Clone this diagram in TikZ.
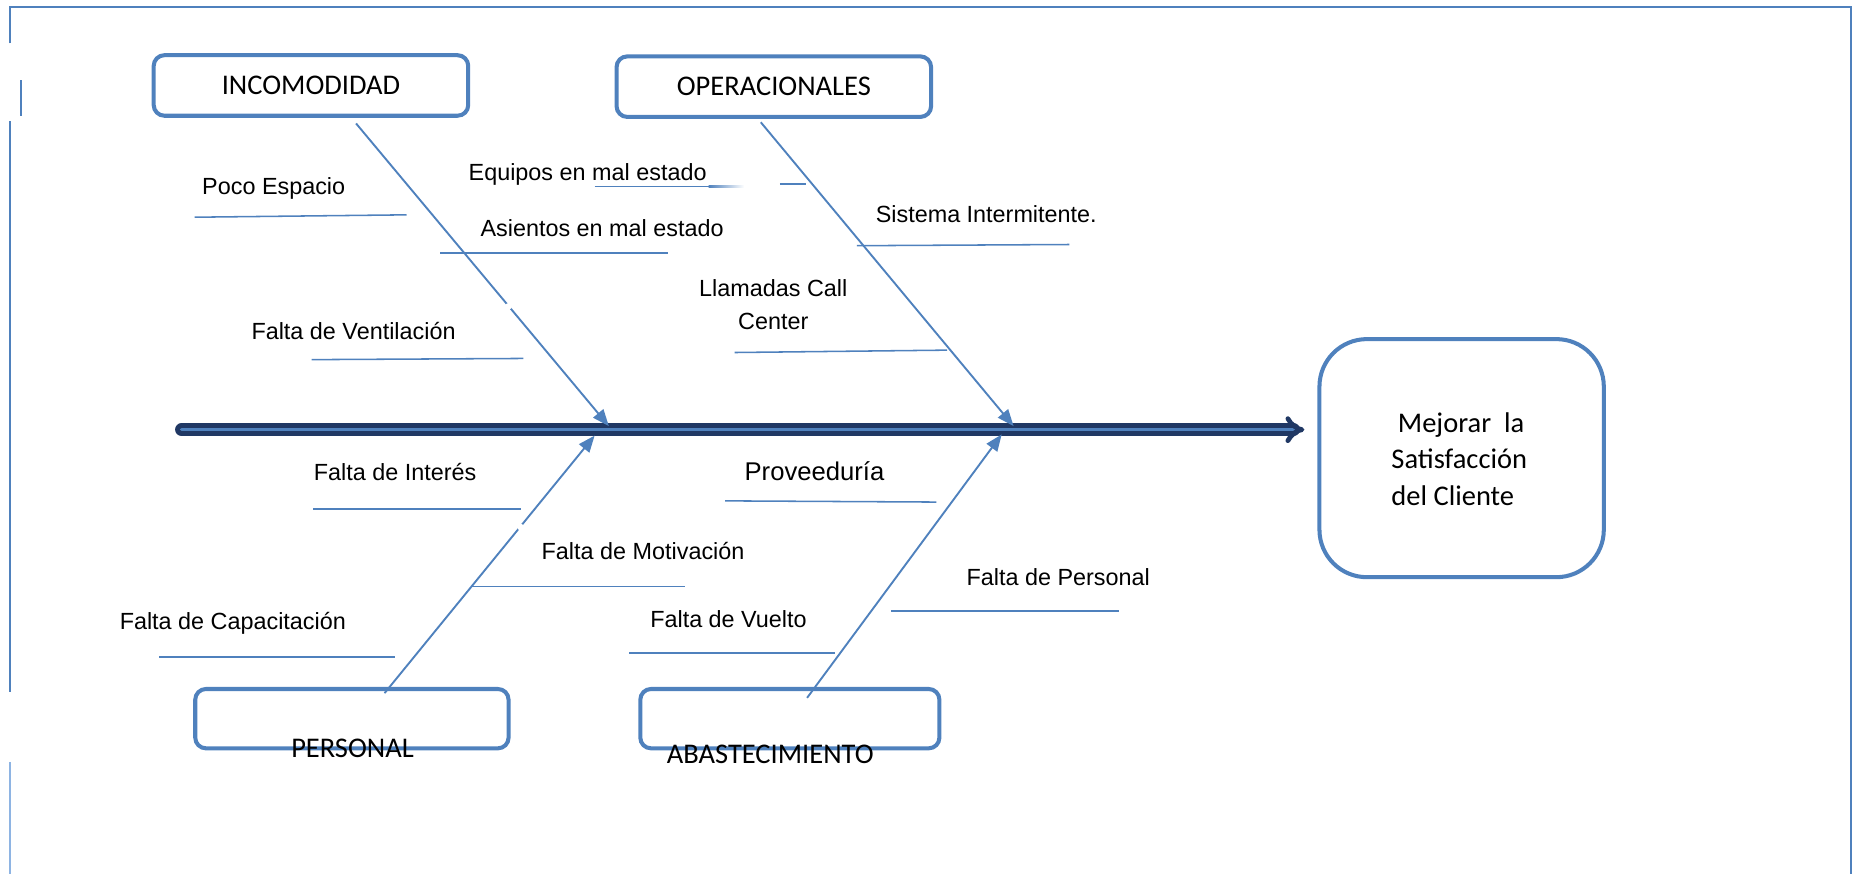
\documentclass[tikz,border=0pt]{standalone}
\usepackage{fontspec}
\usetikzlibrary{arrows.meta}
\newfontfamily\arialfont{Liberation Sans}
\newfontfamily\calibrifont{Carlito}
\definecolor{ofblue}{HTML}{4F81BD}
\definecolor{spinedark}{HTML}{203864}
\definecolor{spinelight}{HTML}{4F81BD}
\definecolor{paleblue}{HTML}{8EB4E3}

\begin{document}
\begin{tikzpicture}[x=0.5pt,y=-0.5pt,
  catbox/.style={draw=ofblue, line width=1.7pt, rounded corners=4.5pt, inner sep=0pt,
    minimum height=25.5pt, font=\calibrifont\fontsize{12}{14.4}\selectfont},
  goalbox/.style={draw=ofblue, line width=1.7pt, rounded corners=20pt, inner sep=0pt,
    minimum width=119.8pt, minimum height=100.3pt},
  cattext/.style={inner sep=0pt, anchor=base, font=\calibrifont\fontsize{12}{14.4}\selectfont},
  cause/.style={inner sep=0pt, anchor=base west, font=\arialfont\fontsize{9.85}{12}\selectfont},
  rib/.style={draw=ofblue, line width=0.65pt},
  bone/.style={draw=ofblue, line width=0.8pt, -{Triangle[length=7pt,width=5.5pt]}},
  frameline/.style={draw=ofblue, line width=0.85pt},
  spinearrow/.style={draw=spinedark, line width=2pt, double=spinelight, double distance=1.5pt,
    line cap=round, -{Implies}}
]
\useasboundingbox (0,0) rectangle (1568,736);

% page frame
\draw[frameline] (8.4,36.5) -- (8.4,6.2) -- (1559.5,6.2) -- (1559.5,736);
\draw[frameline] (17.4,67.4) -- (17.4,97.5);
\draw[frameline] (8.4,102) -- (8.4,582.8);
\draw[frameline, draw=paleblue, line width=0.6pt] (8.4,642) -- (8.4,736);

% category boxes
\node[catbox, minimum width=132.5pt] (incom) at (262,72) {INCOMODIDAD};
\node[catbox, minimum width=132.5pt] (operac) at (652,73) {\raisebox{-1.5pt}{OPERACIONALES}};
\node[catbox, minimum width=132pt, minimum height=25pt] (personal) at (296.5,605.5) {};
\node[catbox, minimum width=126pt, minimum height=25pt] (abast) at (665.5,605.5) {};
\node[cattext] (personaltxt) at (297,638) {PERSONAL};
\node[cattext] (abasttxt) at (649,643) {ABASTECIMIENTO};

% effect box
\node[goalbox] (mejora) at (1231.5,386) {};
\node[inner sep=0pt, anchor=base west] (mejoratxt) at (1172,364.5)
  {\calibrifont\fontsize{12}{15.25}\selectfont
   \begin{tabular}[t]{@{}l@{}}\ Mejorar\ \ la\\Satisfacción\\del Cliente\end{tabular}};

% spine
\coordinate (spinestart) at (153,362);
\draw[spinearrow, shorten >=5.5pt] (spinestart) -- (spinestart -| mejora.west);

% main bones
\coordinate (b1s) at (300,104);  \coordinate (b1e) at (513,359);
\coordinate (b2s) at (641,103);  \coordinate (b2e) at (854,359);
\coordinate (b3s) at (324,584);  \coordinate (b3e) at (501,367);
\coordinate (b4s) at (680,588);  \coordinate (b4e) at (844,366);
\draw[bone] (b1s) -- (b1e);
\draw[bone] (b2s) -- (b2e);
\draw[bone] (b3s) -- (b3e);
\draw[bone] (b4s) -- (b4e);
% small breaks in two bones
\fill[white] (428.6,258) circle[radius=1.4pt];
\fill[white] (438.5,444) circle[radius=1.4pt];

% causes: INCOMODIDAD
\node[cause] (poco) at (170,164) {Poco Espacio};
\draw[rib] (164,183) -- (342.5,181);
\node[cause] (vent) at (211.5,286) {Falta de Ventilación};
\draw[rib] (262.5,303) -- (441,302);
\node[cause] (asientos) at (404.5,199) {Asientos en mal estado};
\draw[rib] (371,213) -- (563,213);

% causes: OPERACIONALES
\node[cause] (equipos) at (394.5,151.7) {Equipos en mal estado};
\draw[rib] (501,157) -- (597,157);
\shade[left color=ofblue, right color=white] (597,156.35) rectangle (627,157.65);
\draw[rib] (657,155) -- (679,155);
\node[cause] (sistema) at (737.5,187.6) {Sistema Intermitente.};
\draw[rib] (722,207) -- (901,206);
\node[inner sep=0pt, anchor=base] (llamadas) at (651.5,250)
  {\arialfont\fontsize{9.85}{13.75}\selectfont
   \begin{tabular}[t]{@{}c@{}}Llamadas Call\\Center\end{tabular}};
\draw[rib] (619,297) -- (798,295);

% causes: PERSONAL
\node[cause] (interes) at (264,404.5) {Falta de Interés};
\draw[rib] (264,429) -- (439,429);
\node[cause] (motiv) at (456,471) {Falta de Motivación};
\draw[rib] (396.5,494) -- (577,494);
\node[cause] (capac) at (100.5,530) {Falta de Capacitación};
\draw[rib] (134,553.5) -- (332.5,553.5);

% causes: ABASTECIMIENTO
\node[cause, font=\arialfont\fontsize{10.8}{13}\selectfont] (proveed) at (627,404.5) {Proveeduría};
\draw[rib] (611,422) -- (789,423);
\node[cause] (vuelto) at (547.5,529) {Falta de Vuelto};
\draw[rib] (530,550) -- (703.5,550);
\node[cause] (faltapers) at (814,493) {Falta de Personal};
\draw[rib] (751,515) -- (943,515);
\end{tikzpicture}
\end{document}
